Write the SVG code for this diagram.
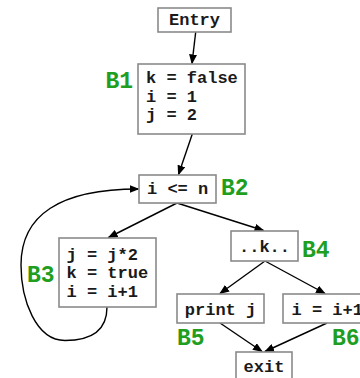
<svg xmlns="http://www.w3.org/2000/svg" width="360" height="378" viewBox="0 0 360 378">
  <style>
    .box { fill: #ffffff; stroke: #8a8a8a; stroke-width: 1.6; }
    .code { font-family: "Liberation Mono", "Courier New", monospace; font-weight: bold; font-size: 17px; fill: #1a1a1a; }
    .lbl { font-family: "Liberation Mono", "Courier New", monospace; font-weight: bold; font-size: 23px; fill: #1f9e1f; }
    .edge { fill: none; stroke: #000000; stroke-width: 1.4; marker-end: url(#arrow); }
  </style>
  <defs>
    <marker id="arrow" markerUnits="userSpaceOnUse" markerWidth="10" markerHeight="8" refX="9" refY="4" orient="auto">
      <path d="M0,0 L10,4 L0,8 Z" fill="#000000"/>
    </marker>
  </defs>
  <rect width="360" height="378" fill="#ffffff"/>

  <g id="connectors">
    <path class="edge" d="M195.7,32 L192,63.5"/>
    <path class="edge" d="M192.3,134 L178.5,174.5"/>
    <path class="edge" d="M177,203 L108.5,237.5"/>
    <path class="edge" d="M177,203 L263.5,230.5"/>
    <path class="edge" d="M265,261 L220,293.5"/>
    <path class="edge" d="M265,261 L325,293.5"/>
    <path class="edge" d="M220,323 L262,351.5"/>
    <path class="edge" d="M327,323 L265,351.5"/>
    <path class="edge" d="M107,307 C107,334 86,340.5 65,340.5 C36,340.5 21,300 21,265 C21,215 60,189 138.5,189"/>
  </g>

  <g id="entry">
    <rect class="box" x="158" y="8" width="73" height="24"/>
    <text class="code" x="194.5" y="25" text-anchor="middle">Entry</text>
  </g>

  <g id="b1">
    <rect class="box" x="138" y="64" width="107" height="70"/>
    <text class="code" x="146" y="83.3">k = false</text>
    <text class="code" x="146" y="101.5">i = 1</text>
    <text class="code" x="146" y="119.5">j = 2</text>
    <text class="lbl" x="133" y="87.5" text-anchor="end">B1</text>
  </g>

  <g id="b2">
    <rect class="box" x="139" y="175" width="77" height="28"/>
    <text class="code" x="147" y="193.5">i &lt;= n</text>
    <text class="lbl" x="221" y="195">B2</text>
  </g>

  <g id="b3">
    <rect class="box" x="59" y="238" width="97" height="69"/>
    <text class="code" x="66.5" y="259.5">j = j*2</text>
    <text class="code" x="66.5" y="278">k = true</text>
    <text class="code" x="66.5" y="296.5">i = i+1</text>
    <text class="lbl" x="27" y="282">B3</text>
  </g>

  <g id="b4">
    <rect class="box" x="231" y="231" width="67" height="30"/>
    <text class="code" x="264.5" y="252" text-anchor="middle">..k..</text>
    <text class="lbl" x="302" y="257">B4</text>
  </g>

  <g id="b5">
    <rect class="box" x="177" y="294" width="87" height="29"/>
    <text class="code" x="220.5" y="315" text-anchor="middle">print j</text>
    <text class="lbl" x="177" y="345">B5</text>
  </g>

  <g id="b6">
    <rect class="box" x="283" y="294" width="90" height="29"/>
    <text class="code" x="291.5" y="315">i = i+1</text>
    <text class="lbl" x="332" y="345">B6</text>
  </g>

  <g id="exit">
    <rect class="box" x="236" y="352" width="56" height="40"/>
    <text class="code" x="264" y="372" text-anchor="middle">exit</text>
  </g>
</svg>
